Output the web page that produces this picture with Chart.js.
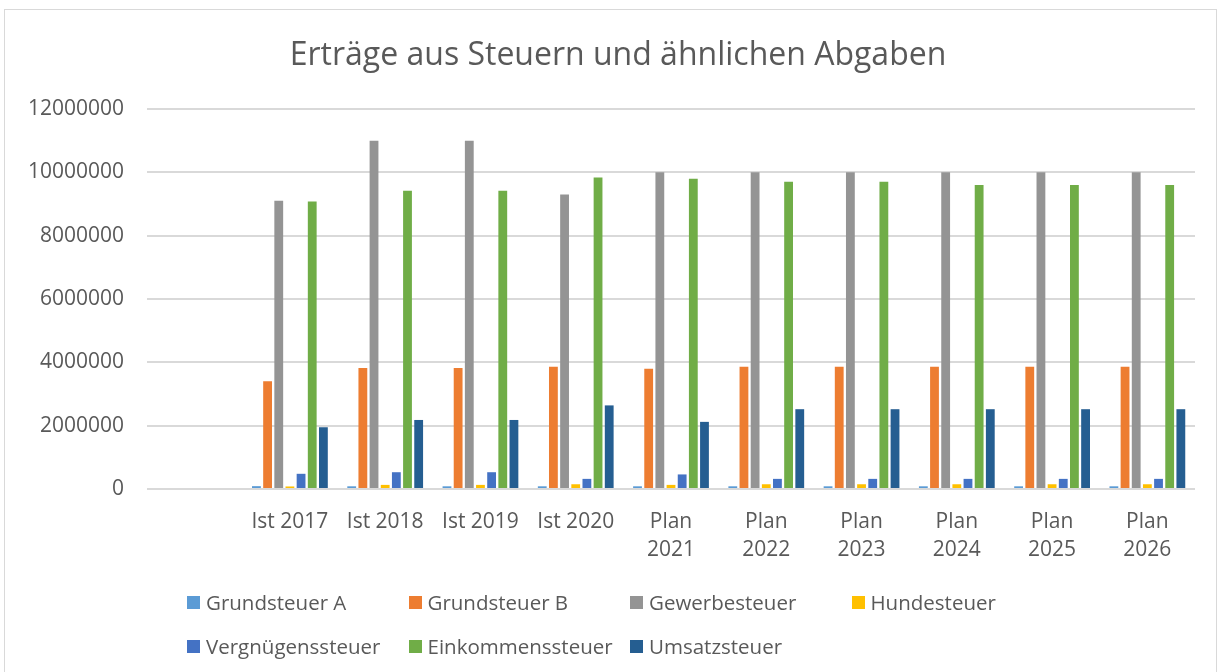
<!DOCTYPE html>
<html>
<head>
<meta charset="utf-8">
<script src="https://cdn.jsdelivr.net/npm/chart.js@4.4.0/dist/chart.umd.min.js"></script>
<style>
  body { margin: 0; background: #fff; }
  #wrap { position: relative; width: 1223px; height: 672px; overflow: hidden; }
  #frame { position: absolute; left: 4px; top: 9px; width: 1213px; height: 680px; border: 1px solid #d9d9d9; box-sizing: border-box; }
  canvas { position: absolute; left: 0; top: 0; }
  #legend { position: absolute; left: 187px; top: 588px; font-family: "Open Sans", sans-serif; font-size: 20.5px; color: #595959; }
  #legend .item { position: absolute; white-space: nowrap; display: flex; align-items: center; }
  #legend .box { width: 13px; height: 13px; margin-right: 6px; }
</style>
</head>
<body>
<div id="wrap">
  <div id="frame"></div>
  <canvas id="chart" width="1223" height="672"></canvas>
  <div id="legend"></div>
</div>
<script>
const categories = ['', 'Ist 2017', 'Ist 2018', 'Ist 2019', 'Ist 2020',
  ['Plan', '2021'], ['Plan', '2022'], ['Plan', '2023'], ['Plan', '2024'], ['Plan', '2025'], ['Plan', '2026']];

const grundsteuerA = [null, 90000, 85000, 85000, 85000, 85000, 85000, 85000, 85000, 85000, 85000];
const grundsteuerB = [null, 3400000, 3820000, 3820000, 3860000, 3800000, 3860000, 3860000, 3860000, 3860000, 3860000];
const gewerbesteuer = [null, 9100000, 11000000, 11000000, 9300000, 10000000, 10000000, 10000000, 10000000, 10000000, 10000000];
const hundesteuer = [null, 80000, 130000, 130000, 150000, 130000, 150000, 150000, 150000, 150000, 150000];
const vergnuegungssteuer = [null, 480000, 530000, 530000, 320000, 460000, 320000, 320000, 320000, 320000, 320000];
const einkommenssteuer = [null, 9080000, 9420000, 9420000, 9840000, 9800000, 9700000, 9700000, 9600000, 9600000, 9600000];
const umsatzsteuer = [null, 1950000, 2180000, 2180000, 2640000, 2120000, 2520000, 2520000, 2520000, 2520000, 2520000];

const yTicks = [0, 2000000, 4000000, 6000000, 8000000, 10000000, 12000000];

const series = [
  { label: 'Grundsteuer A', data: grundsteuerA, color: '#5B9BD5' },
  { label: 'Grundsteuer B', data: grundsteuerB, color: '#ED7D31' },
  { label: 'Gewerbesteuer', data: gewerbesteuer, color: '#949494' },
  { label: 'Hundesteuer', data: hundesteuer, color: '#FFC000' },
  { label: 'Vergnügenssteuer', data: vergnuegungssteuer, color: '#4472C4' },
  { label: 'Einkommenssteuer', data: einkommenssteuer, color: '#70AD47' },
  { label: 'Umsatzsteuer', data: umsatzsteuer, color: '#255E91' }
];

const font = '"Open Sans", sans-serif';
const textColor = '#595959';

const chart = new Chart(document.getElementById('chart'), {
  type: 'bar',
  data: {
    labels: categories,
    datasets: series.map(s => ({
      label: s.label,
      data: s.data,
      backgroundColor: s.color,
      borderWidth: 0,
      categoryPercentage: 0.82,
      barPercentage: 0.79
    }))
  },
  options: {
    responsive: false,
    animation: false,
    layout: { padding: { left: 13, right: 0, top: 0, bottom: 83 } },
    plugins: {
      legend: { display: false },
      tooltip: { enabled: false },
      title: {
        display: true,
        text: 'Erträge aus Steuern und ähnlichen Abgaben',
        color: textColor,
        font: { family: font, size: 32, weight: 'normal', lineHeight: 1.2 },
        padding: { top: 37, bottom: 33.6 }
      }
    },
    scales: {
      x: {
        grid: { display: false },
        border: { display: false },
        ticks: {
          color: textColor,
          font: { family: font, size: 21, lineHeight: 1.33 },
          maxRotation: 0,
          autoSkip: false,
          padding: 11
        },
        afterFit: s => { s.height = 100; }
      },
      y: {
        min: 0,
        max: 12000000,
        grid: { color: '#d9d9d9', lineWidth: 2, drawTicks: false },
        border: { display: false },
        afterBuildTicks: s => { s.ticks = yTicks.map(v => ({ value: v })); },
        ticks: {
          color: textColor,
          font: { family: font, size: 21 },
          padding: 23,
          callback: v => String(v)
        },
        afterFit: s => { s.width = 134; }
      },
      // empty right-hand axis: only reserves the margin right of the plot
      yRight: {
        position: 'right',
        grid: { display: false },
        border: { display: false },
        ticks: { display: false },
        afterFit: s => { s.width = 28; }
      }
    }
  }
});

// legend laid out on a fixed grid like the original
const legend = document.getElementById('legend');
chart.data.datasets.forEach((ds, i) => {
  const item = document.createElement('div');
  item.className = 'item';
  item.style.left = (i % 4) * 221.5 + 'px';
  item.style.top = Math.floor(i / 4) * 44 + 'px';
  item.innerHTML = '<span class="box" style="background:' + ds.backgroundColor + '"></span><span>' + ds.label + '</span>';
  legend.appendChild(item);
});
</script>
</body>
</html>
